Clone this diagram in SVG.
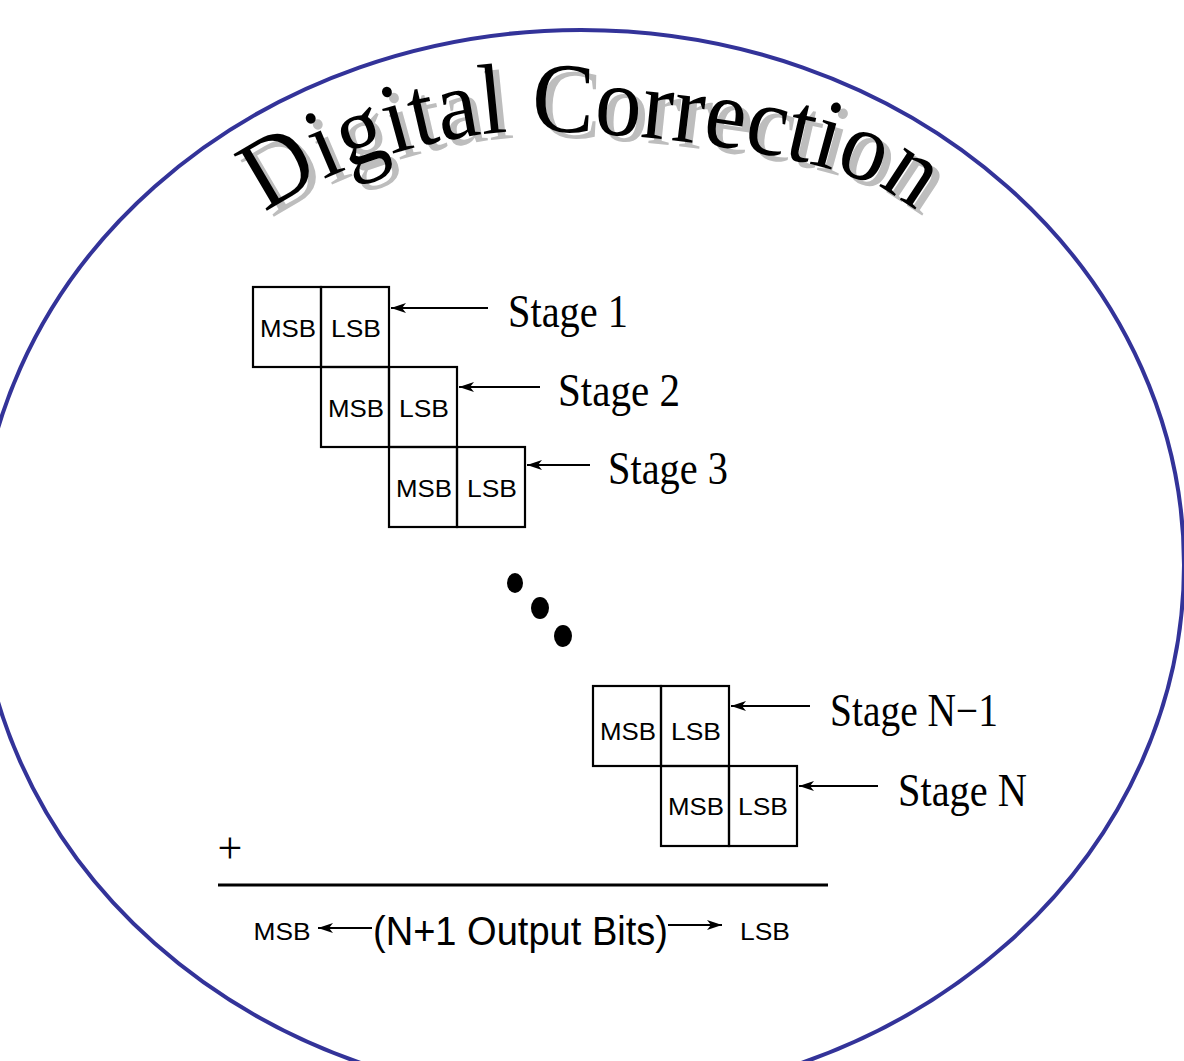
<svg xmlns="http://www.w3.org/2000/svg" xmlns:xlink="http://www.w3.org/1999/xlink" width="1184" height="1061" viewBox="0 0 1184 1061">
<style>
.cell{fill:none;stroke:#000;stroke-width:2.2}
.bit{font-family:"Liberation Sans",Arial,sans-serif;font-size:24px;fill:#000;text-anchor:middle}
.lbl{font-family:"Liberation Serif","Times New Roman",serif;font-size:46px;fill:#000}
.conn{stroke:#000;stroke-width:2;fill:none}
.title{font-family:"Liberation Serif","Times New Roman",serif;font-size:100px}
</style>
<defs>
<marker id="ah" markerUnits="userSpaceOnUse" orient="auto" refX="0" refY="0" markerWidth="20" markerHeight="12" viewBox="-18 -6 20 12" overflow="visible">
<path d="M0,0 L-15,-5 L-11,0 L-15,5 Z" fill="#000"/>
</marker>
<path id="arc" d="M 266,214 C 325,165 453,131 530,131 C 610,131 855,150 912,210"/>
</defs>
<rect width="1184" height="1061" fill="#fff"/>
<ellipse id="frame" cx="581" cy="565" rx="603" ry="535" fill="#fff" stroke="#333399" stroke-width="4"/>
<g id="title">
<text class="title" fill="#bdbdbd" transform="translate(7,6)"><textPath xlink:href="#arc" href="#arc" textLength="680" lengthAdjust="spacingAndGlyphs">Digital Correction</textPath></text>
<text class="title" fill="#000"><textPath xlink:href="#arc" href="#arc" textLength="680" lengthAdjust="spacingAndGlyphs">Digital Correction</textPath></text>
</g>
<g id="stage1">
<rect class="cell" x="253" y="287" width="68" height="80"/>
<rect class="cell" x="321" y="287" width="68" height="80"/>
<text class="bit" x="288" y="337" textLength="56" lengthAdjust="spacingAndGlyphs">MSB</text>
<text class="bit" x="356" y="337" textLength="50" lengthAdjust="spacingAndGlyphs">LSB</text>
<text class="lbl" x="508" y="327" textLength="120" lengthAdjust="spacingAndGlyphs">Stage 1</text>
</g>
<g id="stage2">
<rect class="cell" x="321" y="367" width="68" height="80"/>
<rect class="cell" x="389" y="367" width="68" height="80"/>
<text class="bit" x="356" y="417" textLength="56" lengthAdjust="spacingAndGlyphs">MSB</text>
<text class="bit" x="424" y="417" textLength="50" lengthAdjust="spacingAndGlyphs">LSB</text>
<text class="lbl" x="558" y="406" textLength="122" lengthAdjust="spacingAndGlyphs">Stage 2</text>
</g>
<g id="stage3">
<rect class="cell" x="389" y="447" width="68" height="80"/>
<rect class="cell" x="457" y="447" width="68" height="80"/>
<text class="bit" x="424" y="497" textLength="56" lengthAdjust="spacingAndGlyphs">MSB</text>
<text class="bit" x="492" y="497" textLength="50" lengthAdjust="spacingAndGlyphs">LSB</text>
<text class="lbl" x="608" y="484" textLength="120" lengthAdjust="spacingAndGlyphs">Stage 3</text>
</g>
<g id="ellipsis">
<ellipse cx="515" cy="583" rx="8" ry="10" fill="#000"/>
<ellipse cx="540" cy="608" rx="9" ry="11" fill="#000"/>
<ellipse cx="563" cy="636" rx="9" ry="11" fill="#000"/>
</g>
<g id="stageN1">
<rect class="cell" x="593" y="686" width="68" height="80"/>
<rect class="cell" x="661" y="686" width="68" height="80"/>
<text class="bit" x="628" y="740" textLength="56" lengthAdjust="spacingAndGlyphs">MSB</text>
<text class="bit" x="696" y="740" textLength="50" lengthAdjust="spacingAndGlyphs">LSB</text>
<text class="lbl" x="830" y="726" textLength="168" lengthAdjust="spacingAndGlyphs">Stage N−1</text>
</g>
<g id="stageN">
<rect class="cell" x="661" y="766" width="68" height="80"/>
<rect class="cell" x="729" y="766" width="68" height="80"/>
<text class="bit" x="696" y="815" textLength="56" lengthAdjust="spacingAndGlyphs">MSB</text>
<text class="bit" x="763" y="815" textLength="50" lengthAdjust="spacingAndGlyphs">LSB</text>
<text class="lbl" x="898" y="806" textLength="129" lengthAdjust="spacingAndGlyphs">Stage N</text>
</g>
<g id="connectors">
<line class="conn" x1="488" y1="308" x2="391" y2="308" marker-end="url(#ah)"/>
<line class="conn" x1="540" y1="387" x2="459" y2="387" marker-end="url(#ah)"/>
<line class="conn" x1="590" y1="465" x2="527" y2="465" marker-end="url(#ah)"/>
<line class="conn" x1="810" y1="706" x2="731" y2="706" marker-end="url(#ah)"/>
<line class="conn" x1="878" y1="786" x2="799" y2="786" marker-end="url(#ah)"/>
<line class="conn" x1="372" y1="928" x2="318" y2="928" marker-end="url(#ah)"/>
<line class="conn" x1="668" y1="925" x2="722" y2="925" marker-end="url(#ah)"/>
</g>
<g id="sum">
<text x="230" y="863" font-family="Liberation Serif,Times New Roman,serif" font-size="44" text-anchor="middle" fill="#000">+</text>
<line x1="218" y1="885" x2="828" y2="885" stroke="#000" stroke-width="3"/>
<text class="bit" x="282" y="940" textLength="57" lengthAdjust="spacingAndGlyphs">MSB</text>
<text x="373" y="945" font-family="Liberation Sans,Arial,sans-serif" font-size="40" fill="#000" textLength="295" lengthAdjust="spacingAndGlyphs">(N+1 Output Bits)</text>
<text class="bit" x="765" y="940" textLength="50" lengthAdjust="spacingAndGlyphs">LSB</text>
</g>
</svg>
